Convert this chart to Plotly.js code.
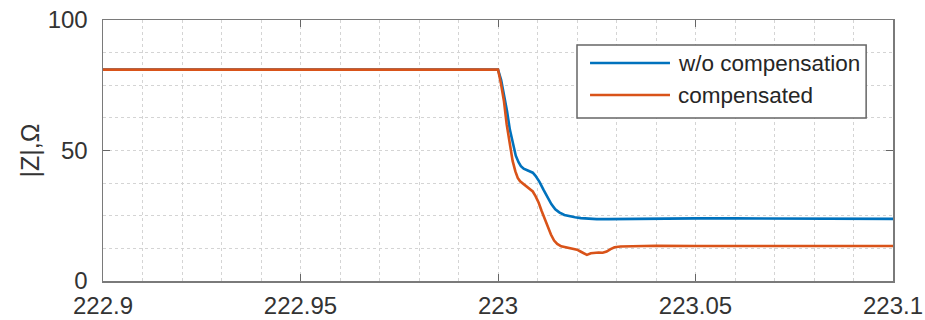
<!DOCTYPE html>
<html><head><meta charset="utf-8">
<script src="https://cdn.plot.ly/plotly-3.0.1.min.js"></script>
<style>html,body{margin:0;padding:0;background:#fff}#chart{width:925px;height:320px}</style>
</head><body><div id="chart"></div>
<script>
const seriesNames = ["w/o compensation", "compensated"];
const xBlue = [222.9, 222.95, 223.0, 223.0008, 223.0015, 223.0023, 223.003, 223.0038, 223.0045, 223.0052, 223.0058, 223.0065, 223.0072, 223.008, 223.0088, 223.0095, 223.0105, 223.0115, 223.0125, 223.0135, 223.0145, 223.0155, 223.0168, 223.018, 223.0195, 223.021, 223.023, 223.025, 223.028, 223.032, 223.04, 223.05, 223.06, 223.07, 223.08, 223.09, 223.1];
const yBlue = [81, 81, 81, 77, 72, 65, 58, 52, 48, 45.5, 44, 43, 42.6, 42.2, 41.5, 40.3, 38, 35, 32, 29.5, 27.5, 26.3, 25.3, 24.8, 24.4, 24.1, 23.9, 23.7, 23.7, 23.8, 23.9, 24, 24, 23.9, 23.9, 23.9, 23.8];
const xOrange = [222.9, 222.95, 223.0, 223.0007, 223.0015, 223.0022, 223.003, 223.0037, 223.0044, 223.005, 223.0056, 223.0064, 223.0072, 223.008, 223.0088, 223.0095, 223.0103, 223.011, 223.0118, 223.0126, 223.0134, 223.0142, 223.015, 223.016, 223.017, 223.018, 223.019, 223.02, 223.021, 223.022, 223.0225, 223.0235, 223.0245, 223.0255, 223.0265, 223.0275, 223.0285, 223.0295, 223.031, 223.033, 223.036, 223.04, 223.05, 223.06, 223.07, 223.08, 223.09, 223.1];
const yOrange = [81, 81, 81, 76, 69, 60, 52, 46, 42, 39.5, 38.2, 37.2, 36.3, 35.5, 34.3, 32.5, 30, 27, 23.8, 20.5, 17.8, 15.5, 14.2, 13.3, 12.9, 12.7, 12.4, 12, 11.2, 10.3, 10, 10.6, 10.8, 10.9, 10.8, 11.3, 12.2, 12.9, 13.2, 13.3, 13.4, 13.5, 13.4, 13.4, 13.5, 13.4, 13.4, 13.4];
const xTickVals = [222.9, 222.95, 223.0, 223.05, 223.1];
const xTickText = ["222.9", "222.95", "223", "223.05", "223.1"];
const yTickVals = [0, 50, 100];
const yTickText = ["0", "50", "100"];

const blue = "#0072BD", orange = "#D95319";
const font = "Liberation Sans, Arial, sans-serif";

const traces = [
  {x: xBlue, y: yBlue, mode: "lines", name: seriesNames[0], line: {color: blue, width: 2.6}},
  {x: xOrange, y: yOrange, mode: "lines", name: seriesNames[1], line: {color: orange, width: 2.6}}
];

const gridCommon = {showgrid: true, gridcolor: "#d4d4d4", griddash: "dot", gridwidth: 1};
const layout = {
  width: 925, height: 320,
  margin: {l: 103, r: 32, t: 20, b: 39},
  paper_bgcolor: "#fff", plot_bgcolor: "#fff",
  showlegend: false,
  font: {family: font, color: "#333", size: 24},
  xaxis: Object.assign({
    range: [222.9, 223.1], tickmode: "array", tickvals: xTickVals, ticktext: xTickText,
    ticks: "inside", ticklen: 7, tickcolor: "#666", showline: true, linecolor: "#7a7a7a", linewidth: 1.5,
    mirror: "ticks", zeroline: false, ticklabelstandoff: 3,
    minor: {dtick: 0.01, tick0: 222.9, showgrid: true, gridcolor: "#d4d4d4", griddash: "dot", gridwidth: 1, ticks: ""},
    tickfont: {family: font, size: 24, color: "#333"}
  }, gridCommon),
  yaxis: Object.assign({
    range: [0, 100], tickmode: "array", tickvals: yTickVals, ticktext: yTickText,
    ticks: "inside", ticklen: 7, tickcolor: "#666", showline: true, linecolor: "#7a7a7a", linewidth: 1.5,
    mirror: "ticks", zeroline: false, ticklabelstandoff: 9,
    minor: {dtick: 12.5, tick0: 0, showgrid: true, gridcolor: "#d4d4d4", griddash: "dot", gridwidth: 1, ticks: ""},
    tickfont: {family: font, size: 24, color: "#333"},
    title: {text: "|Z|,Ω", font: {family: font, size: 25, color: "#333"}, standoff: 1}
  }, gridCommon),
  shapes: [
    {type: "rect", xref: "paper", yref: "paper", x0: 0.600, x1: 0.966, y0: 0.6245, y1: 0.904,
     line: {color: "#666", width: 1.5}, fillcolor: "#fff", layer: "above"},
    {type: "line", xref: "paper", yref: "paper", x0: 0.6165, x1: 0.7177, y0: 0.835, y1: 0.835,
     line: {color: blue, width: 2.6}, layer: "above"},
    {type: "line", xref: "paper", yref: "paper", x0: 0.6165, x1: 0.7177, y0: 0.7126, y1: 0.7126,
     line: {color: orange, width: 2.6}, layer: "above"}
  ],
  annotations: [
    {xref: "paper", yref: "paper", x: 0.7253, y: 0.835, xanchor: "left", yanchor: "middle", showarrow: false,
     text: seriesNames[0], font: {family: font, size: 22.5, color: "#262626"}},
    {xref: "paper", yref: "paper", x: 0.7253, y: 0.7126, xanchor: "left", yanchor: "middle", showarrow: false,
     text: seriesNames[1], font: {family: font, size: 22.5, color: "#262626"}}
  ]
};
Plotly.newPlot("chart", traces, layout, {staticPlot: true, displayModeBar: false});
</script>
</body></html>
